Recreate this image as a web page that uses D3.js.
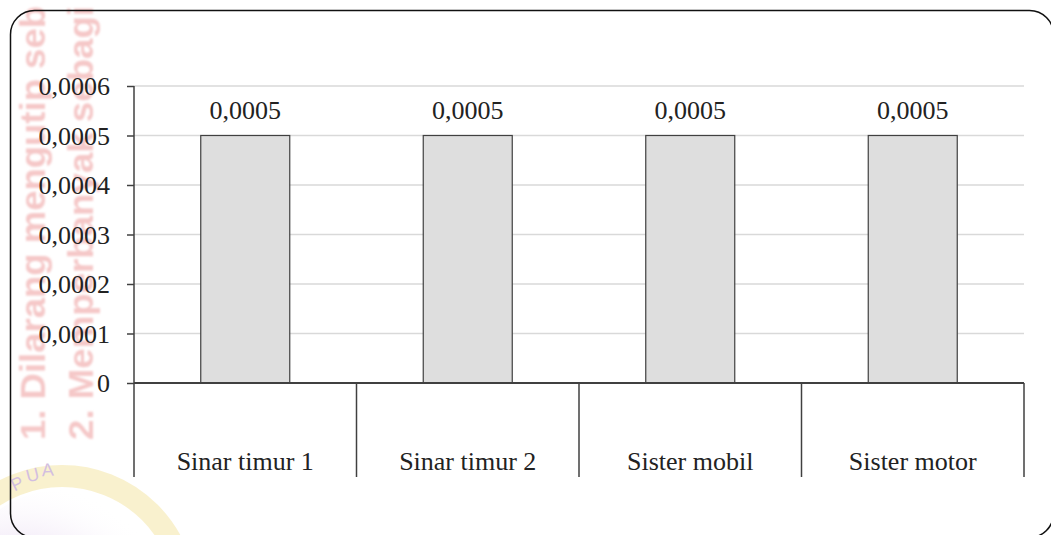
<!DOCTYPE html>
<html>
<head>
<meta charset="utf-8">
<script src="https://cdn.jsdelivr.net/npm/d3@7"></script>
<style>
  html, body { margin: 0; padding: 0; background: #ffffff; }
  svg { display: block; }
</style>
</head>
<body>
<svg id="chart" width="1051" height="535"></svg>
<script>
// Chart data
const categories = ["Sinar timur 1", "Sinar timur 2", "Sister mobil", "Sister motor"];
const values = [0.0005, 0.0005, 0.0005, 0.0005];
const yTicks = [0, 0.0001, 0.0002, 0.0003, 0.0004, 0.0005, 0.0006];
const watermarkLines = ["1. Dilarang mengutip seb", "2. Memperbanyak sebagi"];
const sealLetters = ["P", "U", "A"];

const svg = d3.select("#chart");

// Decimal comma formatting
const fmt = v => v === 0 ? "0" : d3.format(".4f")(v).replace(".", ",");

const plot = { left: 134, right: 1024, top: 86, bottom: 383, catBottom: 477 };

const x = d3.scaleBand().domain(categories).range([plot.left, plot.right]).padding(0);
const y = d3.scaleLinear().domain([0, 0.0006]).range([plot.bottom, plot.top]);

const serif = "'Liberation Serif', 'Times New Roman', Tinos, serif";
const ink = "#404040";

// Background stamp: rotated notice text and faded seal
const defs = svg.append("defs");
defs.append("filter").attr("id", "soft")
  .append("feGaussianBlur").attr("stdDeviation", 0.8);
const sealFade = defs.append("radialGradient").attr("id", "sealFade")
  .attr("cx", "0.3").attr("cy", "0.7").attr("r", "0.75");
sealFade.append("stop").attr("offset", "0").attr("stop-color", "#e2cff0").attr("stop-opacity", 1);
sealFade.append("stop").attr("offset", "0.6").attr("stop-color", "#eee3f5").attr("stop-opacity", 0.7);
sealFade.append("stop").attr("offset", "1").attr("stop-color", "#ffffff").attr("stop-opacity", 0);

const bg = svg.append("g");
bg.append("circle").attr("cx", 62).attr("cy", 600).attr("r", 124)
  .attr("fill", "none").attr("stroke", "#f8efc6").attr("stroke-width", 22).attr("opacity", 0.85);
bg.append("circle").attr("cx", 62).attr("cy", 600).attr("r", 110)
  .attr("fill", "url(#sealFade)");
const letterPos = [[20, 489, -26], [34, 481, -14], [48, 476, -3]];
bg.selectAll("text.seal").data(sealLetters).join("text").attr("class", "seal")
  .attr("transform", (d, i) => `translate(${letterPos[i][0]},${letterPos[i][1]}) rotate(${letterPos[i][2]})`)
  .attr("font-family", "'Liberation Sans', Arial, sans-serif")
  .attr("font-size", 18).attr("fill", "#d3bfe0").attr("text-anchor", "middle")
  .text(d => d);

watermarkLines.forEach((t, i) => {
  bg.append("text")
    .attr("transform", `translate(${45 + i * 48},440) rotate(-90)`)
    .attr("font-family", "'Liberation Sans', Arial, sans-serif")
    .attr("font-weight", "bold")
    .attr("font-size", 35)
    .attr("textLength", 434).attr("lengthAdjust", "spacingAndGlyphs")
    .attr("fill", "#f5c8c8")
    .attr("filter", "url(#soft)")
    .text(t);
});

// Rounded chart frame
svg.append("rect")
  .attr("x", 10.5).attr("y", 10.5)
  .attr("width", 1043).attr("height", 527)
  .attr("rx", 24).attr("ry", 24)
  .attr("fill", "none").attr("stroke", "#111").attr("stroke-width", 1.5);

// Horizontal gridlines
svg.append("g").selectAll("line")
  .data(yTicks.filter(d => d > 0))
  .join("line")
  .attr("x1", plot.left).attr("x2", plot.right)
  .attr("y1", d => y(d)).attr("y2", d => y(d))
  .attr("stroke", "#d9d9d9").attr("stroke-width", 1.5);

// Bars
svg.append("g").selectAll("rect")
  .data(values)
  .join("rect")
  .attr("x", (d, i) => x(categories[i]) + x.bandwidth() * 0.3)
  .attr("width", x.bandwidth() * 0.4)
  .attr("y", d => y(d))
  .attr("height", d => y(0) - y(d))
  .attr("fill", "#dedede")
  .attr("stroke", ink).attr("stroke-width", 1.2);

// Value labels
svg.append("g").selectAll("text")
  .data(values)
  .join("text")
  .attr("x", (d, i) => x(categories[i]) + x.bandwidth() / 2)
  .attr("y", d => y(d) - 17)
  .attr("text-anchor", "middle")
  .style("font-family", serif).style("font-size", "26px").attr("fill", "#222")
  .text(d => fmt(d));

// Y axis
const yAxis = svg.append("g")
  .attr("transform", `translate(${plot.left},0)`)
  .call(d3.axisLeft(y).tickValues(yTicks).tickFormat(fmt).tickSize(7).tickPadding(17).tickSizeOuter(0));
yAxis.attr("font-family", null).attr("font-size", null);
yAxis.select(".domain").remove();
yAxis.selectAll(".tick line").attr("stroke", ink).attr("stroke-width", 1.5);
yAxis.selectAll(".tick text")
  .style("font-family", serif).style("font-size", "26px").attr("fill", "#222").attr("dy", "0.34em");
svg.append("line")
  .attr("x1", plot.left).attr("x2", plot.left)
  .attr("y1", plot.top).attr("y2", plot.catBottom)
  .attr("stroke", ink).attr("stroke-width", 1.5);

// X axis baseline and category dividers
svg.append("line")
  .attr("x1", plot.left).attr("x2", plot.right)
  .attr("y1", y(0)).attr("y2", y(0))
  .attr("stroke", ink).attr("stroke-width", 2);
const bounds = categories.map(c => x(c)).concat([plot.right]);
svg.append("g").selectAll("line")
  .data(bounds.slice(1))
  .join("line")
  .attr("x1", d => d).attr("x2", d => d)
  .attr("y1", y(0)).attr("y2", plot.catBottom)
  .attr("stroke", ink).attr("stroke-width", 1.5);

// Category labels
svg.append("g").selectAll("text")
  .data(categories)
  .join("text")
  .attr("x", d => x(d) + x.bandwidth() / 2)
  .attr("y", 470)
  .attr("text-anchor", "middle")
  .style("font-family", serif).style("font-size", "26px").attr("fill", "#222")
  .text(d => d);
</script>
</body>
</html>
